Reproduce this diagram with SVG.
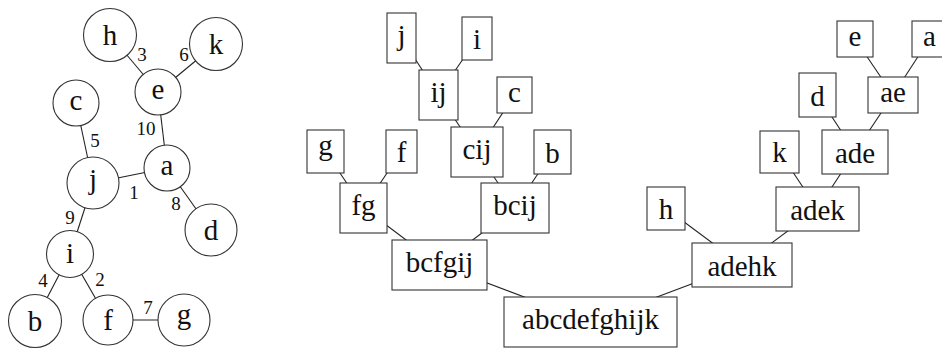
<svg xmlns="http://www.w3.org/2000/svg" width="942" height="349" viewBox="0 0 942 349" font-family="Liberation Serif, DejaVu Serif, serif">
<style>
.e{stroke:#222;stroke-width:1.1;fill:none}
.n{fill:#fff;stroke:#333;stroke-width:1.1}
text{fill:#111;text-anchor:middle}
.t{font-size:29px}
.w{font-size:19px}
</style>
<rect width="942" height="349" fill="#fff"/>
<g id="graph-edges">
<line class="e" x1="110" y1="35" x2="158" y2="92"/>
<line class="e" x1="216" y1="44" x2="158" y2="92"/>
<line class="e" x1="158" y1="92" x2="167" y2="168"/>
<line class="e" x1="76" y1="103" x2="93" y2="183"/>
<line class="e" x1="93" y1="183" x2="167" y2="168"/>
<line class="e" x1="167" y1="168" x2="211" y2="230"/>
<line class="e" x1="93" y1="183" x2="70" y2="254"/>
<line class="e" x1="70" y1="254" x2="35" y2="321"/>
<line class="e" x1="70" y1="254" x2="108" y2="320"/>
<line class="e" x1="108" y1="320" x2="184" y2="320"/>
</g>
<g id="weights">
<text class="w" x="142" y="61">3</text>
<text class="w" x="184" y="61">6</text>
<text class="w" x="146" y="135">10</text>
<text class="w" x="95" y="147">5</text>
<text class="w" x="134" y="199">1</text>
<text class="w" x="176" y="210">8</text>
<text class="w" x="70" y="224">9</text>
<text class="w" x="43" y="287">4</text>
<text class="w" x="100" y="286">2</text>
<text class="w" x="148" y="314">7</text>
</g>
<g id="g-h"><circle class="n" cx="110" cy="35" r="26.5"/><text class="t" x="110" y="45">h</text></g>
<g id="g-k"><circle class="n" cx="216" cy="44" r="26.5"/><text class="t" x="216" y="54">k</text></g>
<g id="g-e"><circle class="n" cx="158" cy="92" r="23"/><text class="t" x="158" y="99">e</text></g>
<g id="g-c"><circle class="n" cx="76" cy="103" r="23"/><text class="t" x="76" y="110">c</text></g>
<g id="g-a"><circle class="n" cx="167" cy="168" r="23"/><text class="t" x="167" y="175">a</text></g>
<g id="g-j"><circle class="n" cx="93" cy="183" r="26"/><text class="t" x="93" y="189">j</text></g>
<g id="g-d"><circle class="n" cx="211" cy="230" r="26"/><text class="t" x="211" y="240">d</text></g>
<g id="g-i"><circle class="n" cx="70" cy="254" r="23.5"/><text class="t" x="70" y="263">i</text></g>
<g id="g-b"><circle class="n" cx="35" cy="321" r="26.5"/><text class="t" x="35" y="331">b</text></g>
<g id="g-f"><circle class="n" cx="108" cy="320" r="25"/><text class="t" x="108" y="330">f</text></g>
<g id="g-g"><circle class="n" cx="184" cy="320" r="26"/><text class="t" x="184" y="324">g</text></g>

<g id="tree-edges">
<line class="e" x1="438.5" y1="95" x2="401.5" y2="38"/>
<line class="e" x1="438.5" y1="95" x2="477" y2="38.5"/>
<line class="e" x1="477" y1="152" x2="438.5" y2="95"/>
<line class="e" x1="477" y1="152" x2="514.5" y2="95"/>
<line class="e" x1="363.5" y1="208" x2="325.5" y2="151.5"/>
<line class="e" x1="363.5" y1="208" x2="401.5" y2="151.5"/>
<line class="e" x1="515" y1="208" x2="477" y2="152"/>
<line class="e" x1="515" y1="208" x2="552.5" y2="152"/>
<line class="e" x1="439.5" y1="265" x2="363.5" y2="208"/>
<line class="e" x1="439.5" y1="265" x2="515" y2="208"/>
<line class="e" x1="590.5" y1="322" x2="439.5" y2="265"/>
<line class="e" x1="590.5" y1="322" x2="742" y2="265"/>
<line class="e" x1="742" y1="265" x2="666" y2="208.5"/>
<line class="e" x1="742" y1="265" x2="817.5" y2="209"/>
<line class="e" x1="817.5" y1="209" x2="779.5" y2="152"/>
<line class="e" x1="817.5" y1="209" x2="855" y2="152"/>
<line class="e" x1="855" y1="152" x2="817.5" y2="95"/>
<line class="e" x1="855" y1="152" x2="893" y2="95"/>
<line class="e" x1="893" y1="95" x2="855" y2="39"/>
<line class="e" x1="893" y1="95" x2="929.5" y2="39"/>
</g>
<g id="t-j"><rect class="n" x="387" y="13" width="29" height="50"/><text class="t" x="401.5" y="44.5">j</text></g>
<g id="t-i"><rect class="n" x="462" y="17" width="30" height="43"/><text class="t" x="477" y="48.5">i</text></g>
<g id="t-ij"><rect class="n" x="419" y="70" width="39" height="50"/><text class="t" x="438.5" y="101.5">ij</text></g>
<g id="t-c"><rect class="n" x="497" y="77" width="35" height="36"/><text class="t" x="514.5" y="101.5">c</text></g>
<g id="t-g"><rect class="n" x="307" y="130" width="37" height="43"/><text class="t" x="325.5" y="154.5">g</text></g>
<g id="t-f"><rect class="n" x="386" y="130" width="31" height="43"/><text class="t" x="401.5" y="161.5">f</text></g>
<g id="t-cij"><rect class="n" x="451" y="127" width="52" height="50"/><text class="t" x="477" y="158.5">cij</text></g>
<g id="t-b"><rect class="n" x="534" y="130" width="37" height="44"/><text class="t" x="552.5" y="162.5">b</text></g>
<g id="t-fg"><rect class="n" x="340" y="183" width="47" height="50"/><text class="t" x="363.5" y="214.5">fg</text></g>
<g id="t-bcij"><rect class="n" x="481" y="183" width="68" height="50"/><text class="t" x="515" y="214.5">bcij</text></g>
<g id="t-bcfgij"><rect class="n" x="392" y="240" width="95" height="50"/><text class="t" x="439.5" y="271.5">bcfgij</text></g>
<g id="t-abcdefghijk"><rect class="n" x="504" y="297" width="173" height="50"/><text class="t" x="590.5" y="328.5">abcdefghijk</text></g>
<g id="t-h"><rect class="n" x="647" y="187" width="38" height="43"/><text class="t" x="666" y="218.5">h</text></g>
<g id="t-adek"><rect class="n" x="776" y="187" width="83" height="44"/><text class="t" x="817.5" y="219.5">adek</text></g>
<g id="t-adehk"><rect class="n" x="692" y="243" width="100" height="44"/><text class="t" x="742" y="275.5">adehk</text></g>
<g id="t-e"><rect class="n" x="837" y="21" width="36" height="36"/><text class="t" x="855" y="45.5">e</text></g>
<g id="t-a"><rect class="n" x="912" y="21" width="35" height="36"/><text class="t" x="929.5" y="45.5">a</text></g>
<g id="t-d"><rect class="n" x="799" y="73" width="37" height="44"/><text class="t" x="817.5" y="105.5">d</text></g>
<g id="t-ae"><rect class="n" x="868" y="77" width="50" height="36"/><text class="t" x="893" y="101.5">ae</text></g>
<g id="t-k"><rect class="n" x="760" y="131" width="39" height="42"/><text class="t" x="779.5" y="161.5">k</text></g>
<g id="t-ade"><rect class="n" x="822" y="130" width="66" height="44"/><text class="t" x="855" y="162.5">ade</text></g>
</svg>
